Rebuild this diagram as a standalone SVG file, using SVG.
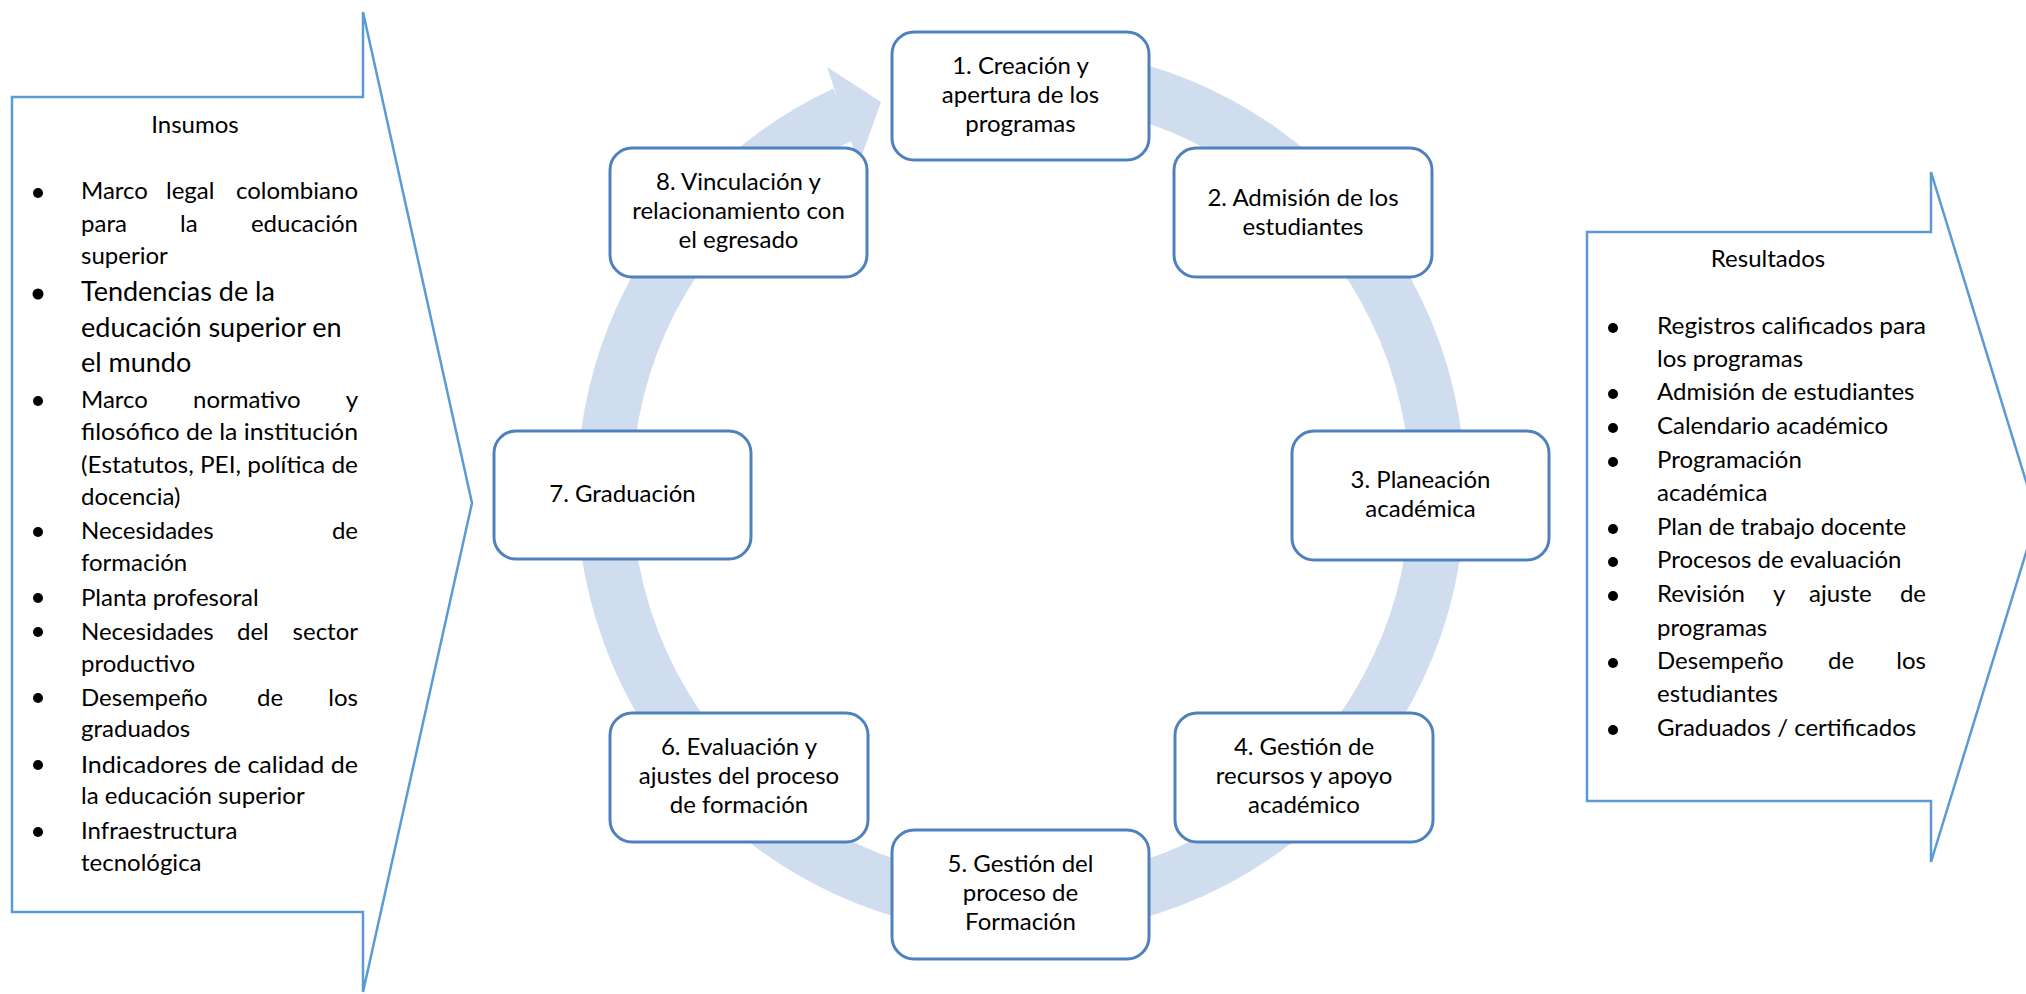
<svg xmlns="http://www.w3.org/2000/svg" width="2026" height="994" viewBox="0 0 2026 994">
<style>
.t{font-family:Lato,"Liberation Sans",sans-serif;font-size:24px;fill:#000}
.c{text-anchor:middle}
.e{text-anchor:end}
.big{font-size:27px}
.node rect{fill:#fff;stroke:#4F81BD;stroke-width:3}
.outline{fill:#fff;stroke:#5B9BD5;stroke-width:2.5}
.band{fill:none;stroke:#D0DDEF;stroke-width:55}
.head{fill:#D0DDEF}
.bul{fill:#000}
</style>
<rect width="2026" height="994" fill="#fff"/>

<g id="insumos">
<path class="outline" d="M12,97 H363 V12 L472,503 L363,992 V912 H12 Z"/>
<text class="t c" x="195" y="133">Insumos</text>
<g class="bul">
<circle cx="38" cy="193" r="5"/><circle cx="38" cy="294" r="5.5"/><circle cx="38" cy="401" r="5"/>
<circle cx="38" cy="532" r="5"/><circle cx="38" cy="598" r="5"/><circle cx="38" cy="632" r="5"/>
<circle cx="38" cy="698" r="5"/><circle cx="38" cy="765" r="5"/><circle cx="38" cy="832" r="5"/>
</g>
<text class="t" x="81" y="199">Marco</text><text class="t" x="166" y="199">legal</text><text class="t e" x="358" y="199">colombiano</text>
<text class="t" x="81" y="232">para</text><text class="t" x="180" y="232">la</text><text class="t e" x="358" y="232">educación</text>
<text class="t" x="81" y="264">superior</text>
<text class="t big" x="81" y="301">Tendencias de la</text>
<text class="t big" x="81" y="337">educación superior en</text>
<text class="t big" x="81" y="372">el mundo</text>
<text class="t" x="81" y="408">Marco</text><text class="t" x="193" y="408">normativo</text><text class="t e" x="358" y="408">y</text>
<text class="t" x="81" y="440" textLength="277" lengthAdjust="spacingAndGlyphs">filosófico de la institución</text>
<text class="t" x="81" y="473" textLength="277" lengthAdjust="spacingAndGlyphs">(Estatutos, PEI, política de</text>
<text class="t" x="81" y="505">docencia)</text>
<text class="t" x="81" y="539">Necesidades</text><text class="t e" x="358" y="539">de</text>
<text class="t" x="81" y="571">formación</text>
<text class="t" x="81" y="606">Planta profesoral</text>
<text class="t" x="81" y="640">Necesidades</text><text class="t" x="237" y="640">del</text><text class="t e" x="358" y="640">sector</text>
<text class="t" x="81" y="672">productivo</text>
<text class="t" x="81" y="706">Desempeño</text><text class="t" x="257" y="706">de</text><text class="t e" x="358" y="706">los</text>
<text class="t" x="81" y="737">graduados</text>
<text class="t" x="81" y="773" textLength="277" lengthAdjust="spacingAndGlyphs">Indicadores de calidad de</text>
<text class="t" x="81" y="804">la educación superior</text>
<text class="t" x="81" y="839">Infraestructura</text>
<text class="t" x="81" y="871">tecnológica</text>
</g>

<g id="resultados">
<path class="outline" d="M1587,232 H1931 V172 L2037,517 L1931,862 V801 H1587 Z"/>
<text class="t c" x="1768" y="267">Resultados</text>
<g class="bul">
<circle cx="1613" cy="328" r="5"/><circle cx="1613" cy="394" r="5"/><circle cx="1613" cy="428" r="5"/>
<circle cx="1613" cy="462" r="5"/><circle cx="1613" cy="529" r="5"/><circle cx="1613" cy="562" r="5"/>
<circle cx="1613" cy="596" r="5"/><circle cx="1613" cy="663" r="5"/><circle cx="1613" cy="730" r="5"/>
</g>
<text class="t" x="1657" y="334" textLength="269" lengthAdjust="spacingAndGlyphs">Registros calificados para</text>
<text class="t" x="1657" y="367">los programas</text>
<text class="t" x="1657" y="400">Admisión de estudiantes</text>
<text class="t" x="1657" y="434">Calendario académico</text>
<text class="t" x="1657" y="468">Programación</text>
<text class="t" x="1657" y="501">académica</text>
<text class="t" x="1657" y="535">Plan de trabajo docente</text>
<text class="t" x="1657" y="568">Procesos de evaluación</text>
<text class="t" x="1657" y="602">Revisión</text><text class="t" x="1773" y="602">y</text><text class="t" x="1809" y="602">ajuste</text><text class="t e" x="1926" y="602">de</text>
<text class="t" x="1657" y="636">programas</text>
<text class="t" x="1657" y="669">Desempeño</text><text class="t" x="1828" y="669">de</text><text class="t e" x="1926" y="669">los</text>
<text class="t" x="1657" y="702">estudiantes</text>
<text class="t" x="1657" y="736">Graduados / certificados</text>
</g>

<g id="connectors">
<path class="band" d="M1093.3,80.8 A416.5,416.5 0 1 1 845.0,113.5"/>
<polygon class="head" points="827,67 881,102 858,166 845,120"/>
</g>

<g id="n1" class="node"><rect x="892" y="32" width="257" height="128" rx="22"/>
<text class="t c" x="1020.5" y="74">1. Creación y</text><text class="t c" x="1020.5" y="103">apertura de los</text><text class="t c" x="1020.5" y="132">programas</text></g>
<g id="n2" class="node"><rect x="1174" y="148" width="258" height="129" rx="22"/>
<text class="t c" x="1303" y="206">2. Admisión de los</text><text class="t c" x="1303" y="235">estudiantes</text></g>
<g id="n3" class="node"><rect x="1292" y="431" width="257" height="129" rx="22"/>
<text class="t c" x="1420.5" y="488">3. Planeación</text><text class="t c" x="1420.5" y="517">académica</text></g>
<g id="n4" class="node"><rect x="1175" y="713" width="258" height="129" rx="22"/>
<text class="t c" x="1304" y="755">4. Gestión de</text><text class="t c" x="1304" y="784">recursos y apoyo</text><text class="t c" x="1304" y="813">académico</text></g>
<g id="n5" class="node"><rect x="892" y="830" width="257" height="129" rx="22"/>
<text class="t c" x="1020.5" y="872">5. Gestión del</text><text class="t c" x="1020.5" y="901">proceso de</text><text class="t c" x="1020.5" y="930">Formación</text></g>
<g id="n6" class="node"><rect x="610" y="713" width="258" height="129" rx="22"/>
<text class="t c" x="739" y="755">6. Evaluación y</text><text class="t c" x="739" y="784">ajustes del proceso</text><text class="t c" x="739" y="813">de formación</text></g>
<g id="n7" class="node"><rect x="494" y="431" width="257" height="128" rx="22"/>
<text class="t c" x="622.5" y="502">7. Graduación</text></g>
<g id="n8" class="node"><rect x="610" y="148" width="257" height="129" rx="22"/>
<text class="t c" x="738.5" y="190">8. Vinculación y</text><text class="t c" x="738.5" y="219">relacionamiento con</text><text class="t c" x="738.5" y="248">el egresado</text></g>
</svg>
